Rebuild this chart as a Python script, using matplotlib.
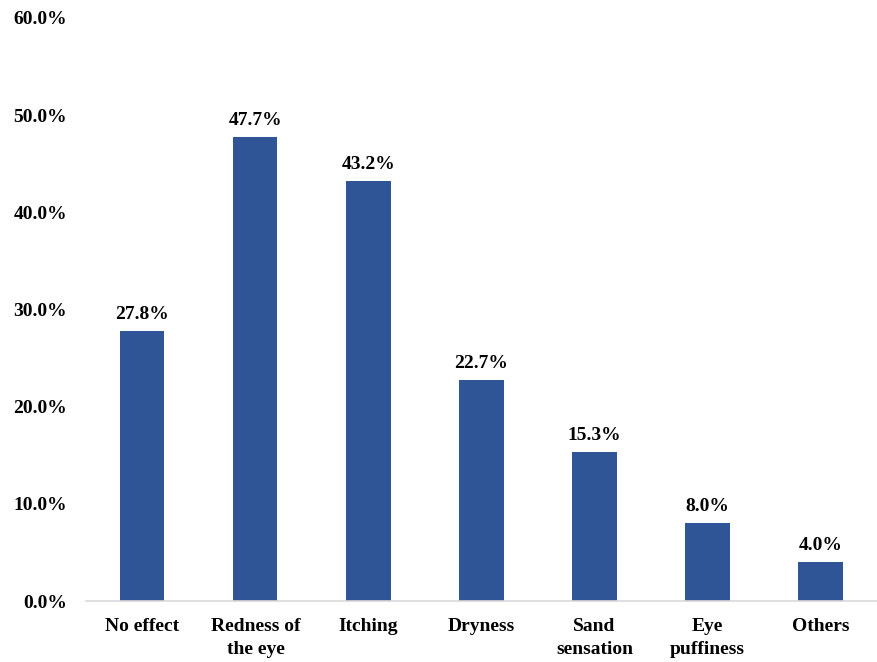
import matplotlib.pyplot as plt
from matplotlib.ticker import FuncFormatter

categories = ['No effect', 'Redness of\nthe eye', 'Itching', 'Dryness',
              'Sand\nsensation', 'Eye\npuffiness', 'Others']
values = [27.8, 47.7, 43.2, 22.7, 15.3, 8.0, 4.0]
yticks = [0, 10, 20, 30, 40, 50, 60]

plt.rcParams['font.family'] = ['Liberation Serif', 'DejaVu Serif']
plt.rcParams['font.weight'] = 'bold'

fig = plt.figure(figsize=(8.77, 6.62), dpi=100)
ax = fig.add_axes([0.098, 0.092, 0.902, 0.881])

x = range(len(categories))
bars = ax.bar(x, values, width=0.39, color='#2F5597', zorder=2)

for xi, v in zip(x, values):
    ax.annotate(f'{v:.1f}%', (xi, v), xytext=(0, 6), textcoords='offset points',
                ha='center', va='bottom', fontsize=14, fontweight='bold')

ax.set_xlim(-0.5, len(categories) - 0.5)
ax.set_ylim(0, 60)
ax.set_yticks(yticks)
ax.yaxis.set_major_formatter(FuncFormatter(lambda v, p: f'{v:.1f}%'))
ax.set_xticks(list(x))
ax.set_xticklabels(categories, linespacing=1.45)

for s in ['top', 'right', 'left']:
    ax.spines[s].set_visible(False)
ax.spines['bottom'].set_color('#D9D9D9')
ax.spines['bottom'].set_linewidth(1.2)

ax.tick_params(axis='y', length=0, pad=13.5, labelsize=14)
ax.tick_params(axis='x', length=0, pad=12, labelsize=14)
for lbl in ax.get_xticklabels() + ax.get_yticklabels():
    lbl.set_fontweight('bold')

fig.savefig('out.png', dpi=100)
